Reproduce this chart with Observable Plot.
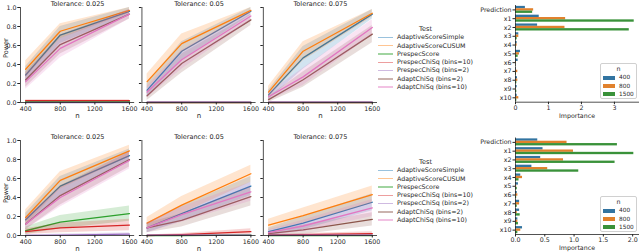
<!DOCTYPE html>
<html><head><meta charset="utf-8">
<script src="https://cdn.jsdelivr.net/npm/d3@7"></script>
<script src="https://cdn.jsdelivr.net/npm/@observablehq/plot@0.6"></script>
<style>
body{margin:0;background:#fff;}
#root{position:relative;width:640px;height:252px;overflow:hidden;font-family:"DejaVu Sans",sans-serif;color:#262626;}
.panel{position:absolute;}
.legend{position:absolute;font-size:6.3px;line-height:8.3px;color:#262626;white-space:nowrap;}
.legend .title{text-align:center;font-size:6.6px;}
.legend .item{display:flex;align-items:center;}
.legend .sw{display:inline-block;width:15px;height:1.5px;margin-right:4px;}
.blegend{position:absolute;font-size:5.8px;line-height:8.4px;color:#262626;border:0.8px solid #d0d0d0;border-radius:2px;background:rgba(255,255,255,0.85);box-sizing:border-box;padding:1px 2px;white-space:nowrap;}
.blegend .title{text-align:center;font-size:6.3px;}
.blegend .item{display:flex;align-items:center;}
.blegend .sw{display:inline-block;width:12px;height:4px;margin-right:4px;}
</style></head><body><div id="root"></div><script>
// ---------------- data ----------------
const nValues = [400, 800, 1600];
const xTicks = [400, 800, 1200, 1600];
const yTicks = [0, 0.2, 0.4, 0.6, 0.8, 1.0];
const tolerances = ["0.025", "0.05", "0.075"];
const tests = ["AdaptiveScoreSimple", "AdaptiveScoreCUSUM", "PrespecScore", "PrespecChiSq (bins=10)", "PrespecChiSq (bins=2)", "AdaptChiSq (bins=2)", "AdaptChiSq (bins=10)"];
const testColors = ["#1f77b4", "#ff7f0e", "#2ca02c", "#d62728", "#9467bd", "#8c564b", "#e377c2"];

// power per test (rows in `tests` order), at n = 400, 800, 1600
const topPower025 = [[0.29,0.71,0.96],[0.35,0.75,0.97],[0.01,0.01,0.01],[0.02,0.02,0.02],[0,0,0],[0.24,0.61,0.93],[0.22,0.57,0.93]];
const topPower05  = [[0.13,0.54,0.96],[0.22,0.62,0.97],[0,0,0],[0,0,0],[0.003,0.003,0.003],[0.07,0.41,0.87],[0.11,0.45,0.91]];
const topPower075 = [[0.08,0.47,0.93],[0.11,0.54,0.94],[0,0,0],[0,0,0],[0.003,0.003,0.003],[0.03,0.24,0.72],[0.06,0.27,0.79]];
const botPower025 = [[0.165,0.52,0.84],[0.19,0.58,0.89],[0.05,0.14,0.23],[0.04,0.08,0.11],[0.002,0.005,0.015],[0.12,0.42,0.80],[0.12,0.40,0.79]];
const botPower05  = [[0.08,0.23,0.52],[0.13,0.32,0.65],[0,0,0.005],[0,0.01,0.04],[0.003,0.003,0.003],[0.08,0.16,0.41],[0.08,0.22,0.46]];
const botPower075 = [[0.04,0.13,0.35],[0.11,0.21,0.43],[0,0,0],[0.005,0.01,0.02],[0.003,0.003,0.003],[0.02,0.06,0.17],[0.03,0.10,0.29]];
// confidence-band half widths
const topCi025 = [[0.09,0.09,0.04],[0.09,0.08,0.03],[0.01,0.01,0.01],[0.01,0.01,0.01],[0,0,0],[0.08,0.10,0.05],[0.08,0.10,0.05]];
const topCi05  = [[0.07,0.10,0.04],[0.08,0.10,0.03],[0,0,0],[0,0,0],[0.003,0.003,0.003],[0.05,0.10,0.06],[0.06,0.10,0.05]];
const topCi075 = [[0.05,0.12,0.05],[0.06,0.10,0.04],[0,0,0],[0,0,0],[0.003,0.003,0.003],[0.03,0.08,0.09],[0.04,0.09,0.08]];
const botCi025 = [[0.07,0.10,0.07],[0.08,0.09,0.06],[0.04,0.07,0.08],[0.03,0.05,0.06],[0.005,0.01,0.015],[0.06,0.10,0.08],[0.06,0.10,0.09]];
const botCi05  = [[0.05,0.08,0.10],[0.06,0.09,0.09],[0,0,0.005],[0.005,0.01,0.03],[0,0,0],[0.05,0.07,0.10],[0.05,0.08,0.10]];
const botCi075 = [[0.04,0.07,0.09],[0.06,0.08,0.09],[0,0,0],[0.005,0.01,0.02],[0,0,0],[0.02,0.05,0.07],[0.03,0.06,0.09]];

const features = ["Prediction","x1","x2","x3","x4","x5","x6","x7","x8","x9","x10"];
const sampleSizes = ["400","800","1500"];
const barColors = ["#3274a1","#e1812c","#3a923a"];
const topImp400  = [0.30,0.72,0.67,0.10,0.05,0.15,0.08,0.02,0.06,0.05,0.05];
const topImp800  = [0.55,1.52,1.50,0.10,0.05,0.12,0.03,0.07,0.07,0.02,0.10];
const topImp1500 = [0.52,3.60,3.45,0.05,0.02,0.08,0.01,0.03,0.04,0.04,0.04];
const botImp400  = [0.38,0.47,0.43,0.28,0.09,0.05,0.03,0.07,0.07,0.04,0.12];
const botImp800  = [0.88,0.99,0.82,0.55,0.12,0.02,0.04,0.07,0.03,0.04,0.09];
const botImp1500 = [1.74,2.02,1.70,1.08,0.06,0.03,0.02,0.03,0.08,0.05,0.04];

// ---------------- helpers ----------------
const FONT = "DejaVu Sans";
const INK = "#262626";
function powerRows(powerByTol, ciByTol) {
  const rows = [];
  tolerances.forEach((tol, k) => {
    tests.forEach((t, i) => {
      nValues.forEach((n, j) => {
        const p = powerByTol[k][i][j], c = ciByTol[k][i][j];
        rows.push({tol, test: t, n, power: p, lo: Math.max(0, p - c), hi: Math.min(1, p + c)});
      });
    });
  });
  return rows;
}
function linePlot(rows, mt, mb, labelDy) {
  return Plot.plot({
    width: 380, height: 126, marginLeft: 20, marginRight: 3, marginTop: mt, marginBottom: mb,
    style: {fontFamily: FONT, fontSize: "6.3px", color: INK, background: "transparent", overflow: "visible"},
    fx: {domain: tolerances, paddingInner: 0.06, paddingOuter: 0, round: false, axis: null},
    x: {domain: [340, 1660]},
    y: {domain: [0, 1]},
    color: {domain: tests, range: testColors},
    marks: [
      ...tests.flatMap(t => [
        Plot.line(rows.filter(d => d.test === t), {fx: "tol", x: "n", y: "power", stroke: "test", strokeWidth: 1.3}),
        Plot.areaY(rows.filter(d => d.test === t), {fx: "tol", x: "n", y1: "lo", y2: "hi", fill: "test", fillOpacity: 0.2})
      ]),
      Plot.ruleX([340], {stroke: INK, strokeWidth: 0.8}),
      Plot.ruleY([0], {stroke: INK, strokeWidth: 0.8}),
      Plot.axisX({ticks: xTicks, tickFormat: d3.format("d"), tickSize: 2.5, tickPadding: 1.5, label: null}),
      Plot.axisY({ticks: yTicks, tickFormat: d3.format(".1f"), tickSize: 2.5, tickPadding: 1.5, label: null}),
      Plot.axisY({ticks: yTicks, tickFormat: () => "", tickSize: 2.5, label: null, facetAnchor: null}),
      Plot.text(tolerances, {fx: d => d, text: d => `Tolerance: ${d}`, frameAnchor: "top", lineAnchor: "middle", dy: -4, fontSize: 6.5, fill: INK}),
      Plot.text(tolerances, {fx: d => d, text: () => "n", frameAnchor: "bottom", lineAnchor: "middle", dy: 13, fontSize: 7, fill: INK}),
      Plot.text(["Power"], {fx: () => tolerances[0], text: d => d, frameAnchor: "left", lineAnchor: "middle", rotate: -90, dx: -15, dy: labelDy, fontSize: 6.5, fill: INK})
    ]
  });
}
function barRows(a, b, c) {
  const arrs = [a, b, c];
  return features.flatMap((f, i) => sampleSizes.map((n, j) => ({feature: f, n, importance: arrs[j][i]})));
}
function barPlot(rows, mt, mb, xmax, ticks, fmt) {
  return Plot.plot({
    width: 160, height: 126, marginLeft: 35, marginRight: 2, marginTop: mt, marginBottom: mb,
    style: {fontFamily: FONT, fontSize: "6.3px", color: INK, background: "transparent", overflow: "visible"},
    fy: {domain: features, padding: 0, round: false, axis: null},
    y: {domain: sampleSizes, paddingInner: 0, paddingOuter: 0.375, round: false, axis: null},
    x: {domain: [0, xmax]},
    color: {domain: sampleSizes, range: barColors},
    marks: [
      Plot.barX(rows, {fy: "feature", y: "n", x: "importance", fill: "n"}),
      Plot.ruleX([0], {stroke: INK, strokeWidth: 0.8}),
      Plot.frame({anchor: "bottom", facetAnchor: "bottom", stroke: INK, strokeWidth: 0.8}),
      Plot.axisX({ticks, tickFormat: fmt, tickSize: 2.5, tickPadding: 1, label: null}),
      Plot.axisFy({anchor: "left", tickSize: 2.5, tickPadding: 1.5, label: null}),
      Plot.text(["Importance"], {fy: () => "x10", text: d => d, frameAnchor: "bottom", lineAnchor: "top", dy: 11, fontSize: 6.3, fill: INK})
    ]
  });
}
const root = document.getElementById("root");
function place(node, left, top) {
  const wrap = document.createElement("div");
  wrap.className = "panel";
  wrap.style.left = left + "px"; wrap.style.top = top + "px";
  wrap.appendChild(node); root.appendChild(wrap);
}
function lineLegend(left, top) {
  const div = document.createElement("div");
  div.className = "legend";
  div.style.left = left + "px"; div.style.top = top + "px";
  div.innerHTML = `<div class="title">Test</div>` + tests.map((t, i) =>
    `<div class="item"><span class="sw" style="background:${testColors[i]};opacity:0.45"></span>${t}</div>`).join("");
  root.appendChild(div);
}
function barLegend(left, top) {
  const div = document.createElement("div");
  div.className = "blegend";
  div.style.left = left + "px"; div.style.top = top + "px";
  div.style.width = "37px"; div.style.height = "36px";
  div.innerHTML = `<div class="title">n</div>` + sampleSizes.map((s, i) =>
    `<div class="item"><span class="sw" style="background:${barColors[i]}"></span>${s}</div>`).join("");
  root.appendChild(div);
}

// ---------------- draw ----------------
place(linePlot(powerRows([topPower025, topPower05, topPower075], [topCi025, topCi05, topCi075]), 7, 24, 3), 0, 0);
place(linePlot(powerRows([botPower025, botPower05, botPower075], [botCi025, botCi05, botCi075]), 14, 17, 15), 0, 126);
lineLegend(378, 25);
lineLegend(378, 158);
place(barPlot(barRows(topImp400, topImp800, topImp1500), 5, 24.3, 3.73, [0,1,2,3], d3.format("d")), 480, 0);
place(barPlot(barRows(botImp400, botImp800, botImp1500), 11.5, 18, 2.1, [0,0.5,1,1.5,2], d3.format(".1f")), 480, 126);
barLegend(600, 63);
barLegend(600, 196);
</script></body></html>
